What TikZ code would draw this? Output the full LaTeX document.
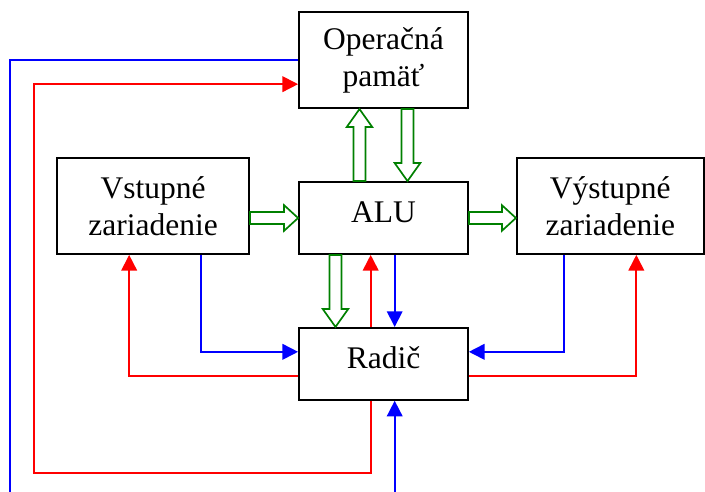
\documentclass[tikz,border=0pt]{standalone}
\usepackage{fontspec}
\setmainfont{Liberation Serif}
\usetikzlibrary{arrows.meta, positioning, calc}

\newcommand{\fatarrow}[3][0.45cm]{%
  \coordinate (fa) at ($(#3)!#1!(#2)$);
  \draw[fat] ($(#2)!0.15cm!90:(#3)$) -- ($(fa)!0.15cm!90:(#3)$)
    -- ($(fa)!0.32cm!90:(#3)$) -- (#3) -- ($(fa)!0.32cm!-90:(#3)$)
    -- ($(fa)!0.15cm!-90:(#3)$) -- ($(#2)!0.15cm!-90:(#3)$) -- cycle;}

\begin{document}
\begin{tikzpicture}[
  box/.style={rectangle, draw=black, line width=1.3pt, align=center,
              inner sep=2pt, font=\fontsize{22.4}{26.3}\selectfont},
  oneline/.style={text depth=0.3cm},
  sig/.style={line width=1.2pt, -{Triangle[length=0.39cm, width=0.39cm]}},
  ctrl/.style={sig, draw=red},
  addr/.style={sig, draw=blue},
  fat/.style={draw=green!50!black, line width=1.2pt, fill=white},
]
\useasboundingbox (-9.5875,5.45) rectangle (8.0375,-6.85);
\node[box, oneline, minimum width=4.225cm, minimum height=1.8cm] (alu) at (0,0) {ALU};
\node[box, minimum width=4.225cm, minimum height=2.4cm, above=1.8cm of alu] (mem) {Operačná\\pamäť};
\node[box, oneline, minimum width=4.225cm, minimum height=1.8cm, below=1.8cm of alu] (radic) {Radič};
\node[box, minimum width=4.8cm, minimum height=2.4cm, left=1.2cm of alu.south west, anchor=south east] (vstup) {Vstupné\\zariadenie};
\node[box, minimum width=4.675cm, minimum height=2.4cm, right=1.175cm of alu.south east, anchor=south west] (vystup) {Výstupné\\zariadenie};

\coordinate (aluup) at ([xshift=-0.6cm]alu.north);
\coordinate (memup) at ([xshift=-0.6cm]mem.south);
\coordinate (memdn) at ([xshift=0.6cm]mem.south);
\coordinate (aludn) at ([xshift=0.6cm]alu.north);
\coordinate (aluout) at ([xshift=-1.2cm]alu.south);
\coordinate (radicin) at ([xshift=-1.2cm]radic.north);
\coordinate (vstupout) at (vstup.east |- alu.west);
\coordinate (vystupin) at (vystup.west |- alu.east);

\fatarrow{aluup}{memup}
\fatarrow{memdn}{aludn}
\fatarrow{aluout}{radicin}
\fatarrow[0.35cm]{vstupout}{alu.west}
\fatarrow[0.35cm]{alu.east}{vystupin}

\draw[ctrl] ([xshift=-0.32cm]radic.north) -- ([xshift=-0.32cm]alu.south);
\draw[addr] ([xshift=0.28cm]alu.south) -- ([xshift=0.28cm]radic.north);
\draw[addr] ([xshift=1.2cm]vstup.south) |- ([yshift=0.3cm]radic.west);
\draw[ctrl] ([yshift=-0.3cm]radic.west) -| ([xshift=-0.6cm]vstup.south);
\draw[addr] ([xshift=-1.15cm]vystup.south) |- ([yshift=0.3cm]radic.east);
\draw[ctrl] ([yshift=-0.3cm]radic.east) -| ([xshift=0.65cm]vystup.south);
\draw[ctrl] ([xshift=-0.32cm]radic.south) -- ++(0,-1.8cm)
  -| ([xshift=-6.6cm, yshift=-0.6cm]mem.west) -- ([yshift=-0.6cm]mem.west);
\draw[addr] (mem.west) -- ++(-7.2cm,0)
  |- ([xshift=0.28cm, yshift=-3cm]radic.south) -- ([xshift=0.28cm]radic.south);
\end{tikzpicture}
\end{document}
